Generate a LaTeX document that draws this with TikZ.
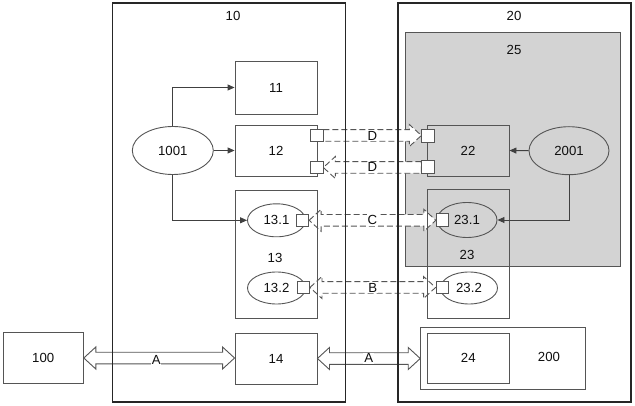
\documentclass[tikz,border=0pt]{standalone}
\usepackage{fontspec}
\setmainfont{Liberation Sans}
\usetikzlibrary{calc,shapes.geometric,arrows.meta}
\pgfdeclarelayer{back}\pgfdeclarelayer{mid}
\pgfsetlayers{back,mid,main}
\definecolor{edge}{HTML}{555555}
\definecolor{greyfill}{HTML}{D3D3D3}
\definecolor{txt}{HTML}{0F0F0F}
\newcommand\arrHL{12pt}
\newcommand\arrHW{11pt}
\newcommand\arrSW{5.8pt}
% tail left, tip right
\newcommand\arrowToRight[3]{%
 \draw[#1] let \p1=(#2), \p2=(#3) in
  (\x1,\y1+\arrSW) -- (\x2-\arrHL,\y1+\arrSW) -- (\x2-\arrHL,\y1+\arrHW) -- (\x2,\y1)
  -- (\x2-\arrHL,\y1-\arrHW) -- (\x2-\arrHL,\y1-\arrSW) -- (\x1,\y1-\arrSW) -- cycle;}
% tip left, tail right
\newcommand\arrowToLeft[3]{%
 \draw[#1] let \p1=(#2), \p2=(#3) in
  (\x2,\y1+\arrSW) -- (\x1+\arrHL,\y1+\arrSW) -- (\x1+\arrHL,\y1+\arrHW) -- (\x1,\y1)
  -- (\x1+\arrHL,\y1-\arrHW) -- (\x1+\arrHL,\y1-\arrSW) -- (\x2,\y1-\arrSW) -- cycle;}
% both heads, first point left
\newcommand\arrowBoth[3]{%
 \draw[#1] let \p1=(#2), \p2=(#3) in
  (\x1,\y1) -- (\x1+\arrHL,\y1+\arrHW) -- (\x1+\arrHL,\y1+\arrSW) -- (\x2-\arrHL,\y1+\arrSW)
  -- (\x2-\arrHL,\y1+\arrHW) -- (\x2,\y1) -- (\x2-\arrHL,\y1-\arrHW) -- (\x2-\arrHL,\y1-\arrSW)
  -- (\x1+\arrHL,\y1-\arrSW) -- (\x1+\arrHL,\y1-\arrHW) -- cycle;}
\tikzset{
 box/.style={draw=edge, line width=0.9pt, minimum width=82pt, minimum height=51pt, inner sep=0pt},
 frame/.style={draw=black!85, line width=1.8pt, minimum width=233pt, minimum height=399pt, inner sep=0pt},
 oval/.style={ellipse, draw=edge, line width=0.9pt, inner sep=0pt},
 port/.style={draw=edge, fill=white, line width=0.8pt, minimum size=12.5pt, inner sep=0pt},
 conn/.style={draw=black!75, line width=0.9pt, -{Triangle[length=7pt,width=6pt]}},
 hollow/.style={draw=edge, fill=white, line width=0.9pt, line join=miter},
 hollowdash/.style={hollow, dash pattern=on 6pt off 3pt},
 lab/.style={fill=white, inner sep=1pt},
 plain/.style={inner sep=0pt}
}
\begin{document}
\begin{tikzpicture}[x=1pt,y=-1pt,font=\fontsize{13.2}{16}\selectfont,text=txt]
\useasboundingbox (0,0) rectangle (635,406);
% grey area 25
\begin{pgfonlayer}{back}
\node[draw=edge, fill=greyfill, line width=0.9pt, minimum width=215pt, minimum height=233.7pt, inner sep=0pt] (b25) at (512.5,149.2) {};
\end{pgfonlayer}
\node[plain] (t10) at (233,15.5) {10};
\node[plain] (t20) at (514,15.5) {20};
\node[plain] (t25) at (514,50) {25};
% left unit
\node[box, minimum height=53pt] (b11) at (276,87.5) {11};
\node[box] (b12) at (276,150.5) {12};
\node[box, minimum height=128pt] (b13) at (276,254) {};
\node[plain] (t13) at (275,258) {13};
\node[box] (b14) at (276,358.5) {14};
\node[oval, minimum width=81pt, minimum height=48pt] (e1001) at (172.8,150.5) {1001};
\node[oval, minimum width=58pt, minimum height=33pt] (e131) at (276.5,220.3) {13.1};
\node[oval, minimum width=58pt, minimum height=32pt] (e132) at (276.5,288) {13.2};
% right unit
\node[box] (b22) at (468,150.5) {22};
\node[box, minimum height=129pt] (b23) at (468,254) {};
\node[plain] (t23) at (467,254.5) {23};
\node[draw=edge, line width=0.9pt, minimum width=164.6pt, minimum height=62pt, inner sep=0pt] (b200) at (503,358.3) {};
\node[plain] (t200) at (549,357) {200};
\node[box, minimum height=50pt] (b24) at (468.3,358.3) {24};
\node[oval, minimum width=80pt, minimum height=48pt] (e2001) at (569,150.7) {2001};
\node[oval, minimum width=60pt, minimum height=35pt] (e231) at (467,220) {23.1};
\node[oval, minimum width=57pt, minimum height=32pt] (e232) at (469,288) {23.2};
% outside
\node[box, minimum width=80.3pt, minimum height=50.6pt] (b100) at (43.2,358) {100};
% ports
\node[port] (s12a) at (316.7,135.5) {};
\node[port] (s12b) at (316.7,167.5) {};
\node[port] (s22a) at (428,136) {};
\node[port] (s22b) at (428,167) {};
\node[port] (s131) at (302.5,220.3) {};
\node[port] (s132) at (303.3,287.5) {};
\node[port] (s231) at (442.5,220) {};
\node[port] (s232) at (442.2,287.5) {};
% connectors
\draw[conn] (e1001.north) |- (b11.west);
\draw[conn] (e1001.east) -- (b12.west);
\draw[conn] (e1001.south) |- (e131.west);
\draw[conn] (e2001.west) -- (b22.east);
\draw[conn] (e2001.south) |- (e231.east);
% hollow arrows
\begin{pgfonlayer}{mid}
\arrowToRight{hollowdash}{s12a.east}{s22a.west}
\node[lab] (lD1) at ($(s12a.east)!0.5!(s22a.west)$) {D};
\arrowToLeft{hollowdash}{s12b.east}{s22b.west}
\node[lab] (lD2) at ($(s12b.east)!0.5!(s22b.west)$) {D};
\arrowBoth{hollowdash}{s131.east}{s231.west}
\node[lab] (lC) at ($(s131.east)!0.5!(s231.west)$) {C};
\arrowBoth{hollowdash}{s132.east}{s232.west}
\node[lab] (lB) at ($(s132.east)!0.5!(s232.west)$) {B};
\arrowBoth{hollow}{b100.east}{b14.west}
\node[lab, inner sep=0.5pt] (lA1) at ($(b100.east)!0.48!(b14.west)+(0,1.5)$) {A};
\arrowBoth{hollow}{b14.east}{b200.west}
\node[lab] (lA2) at ($(b14.east)!0.5!(b200.west)$) {A};
\end{pgfonlayer}
% outer frames
\node[frame] (b10) at (229,202.2) {};
\node[frame] (b20) at (514.5,202.2) {};
\end{tikzpicture}
\end{document}
